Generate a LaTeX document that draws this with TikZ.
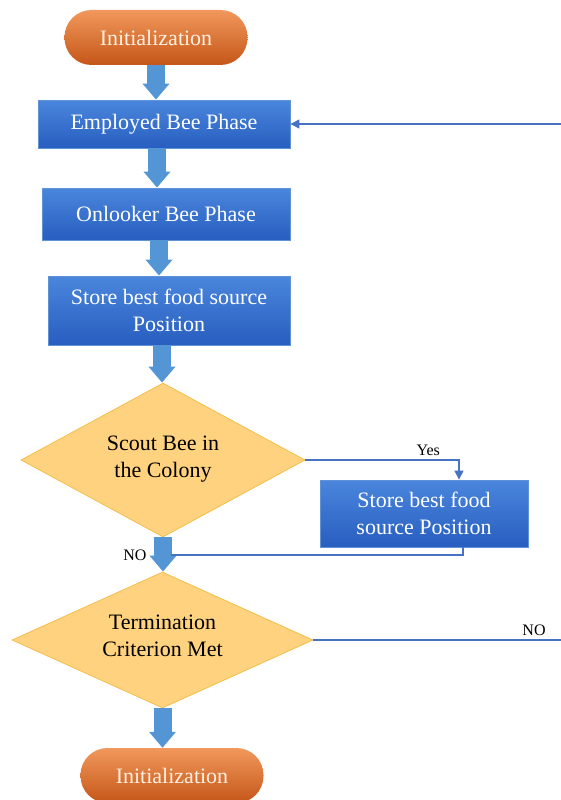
\documentclass[tikz,border=0pt]{standalone}
\usepackage{fontspec}
\setmainfont{Liberation Serif}
\usetikzlibrary{positioning, shapes, arrows.meta}

\definecolor{pilltop}{RGB}{242,152,92}
\definecolor{pillmid}{RGB}{234,122,52}
\definecolor{pillbot}{RGB}{196,86,24}
\definecolor{pilltext}{RGB}{255,242,228}
\definecolor{boxtop}{RGB}{74,134,220}
\definecolor{boxbot}{RGB}{40,94,192}
\definecolor{boxline}{RGB}{96,146,214}
\definecolor{arrowblue}{RGB}{84,150,213}
\definecolor{decfill}{RGB}{255,210,128}
\definecolor{decline}{RGB}{244,190,74}
\definecolor{linkblue}{RGB}{72,114,196}

\begin{document}
\begin{tikzpicture}[x=1pt, y=-1pt,
	pill/.style={rectangle, rounded corners=27pt, minimum width=183pt, minimum height=55pt,
		top color=pilltop, middle color=pillmid, bottom color=pillbot, text=pilltext,
		font=\rmfamily\fontsize{22}{27}\selectfont},
	phase/.style={rectangle, draw=boxline, line width=0.8pt, top color=boxtop, bottom color=boxbot,
		text=white, align=center, inner sep=0pt, font=\rmfamily\fontsize{22}{27}\selectfont},
	decision/.style={diamond, aspect=1.84, draw=decline, line width=0.8pt, fill=decfill,
		inner sep=0pt, align=center, font=\rmfamily\fontsize{22}{27}\selectfont},
	bigarrow/.style={draw=arrowblue, line width=18pt, -{Triangle[width=26pt, length=16pt]}},
	link/.style={draw=linkblue, line width=1.1pt},
	tag/.style={font=\rmfamily\fontsize{16}{19}\selectfont}]
	\useasboundingbox (0,0) rectangle (561,800);
	% Nodes:
	\node[pill] (init) at (156, 37.5){Initialization};
	\node[phase, minimum width=252pt, minimum height=48pt] (emp) at (164, 124){Employed Bee Phase};
	\node[phase, minimum width=248pt, minimum height=52pt] (onl) at (166, 214){Onlooker Bee Phase};
	\node[phase, minimum width=242pt, minimum height=69pt] (best) at (169, 310.5){Store best food source\\Position};
	\node[decision, minimum width=284pt, minimum height=154pt] (scout) at (163, 460){Scout Bee in\\the Colony\\[-20pt]};
	\node[phase, minimum width=208pt, minimum height=67pt] (keep) at (424, 513.5){Store best food\\source Position};
	\node[decision, minimum width=301pt, minimum height=136pt] (term) at (162.5, 640){Termination\\Criterion Met\\[-18pt]};
	\node[pill] (fin) at (172, 775.5){Initialization};
	\coordinate (edge) at (567, 0);
	\coordinate (merge) at (171, 555);
	% Block arrows:
	\draw[bigarrow] (init.south) -- (init.south |- emp.north);
	\draw[bigarrow] ([xshift=-7pt]emp.south) -- ([xshift=-7pt]emp.south |- onl.north);
	\draw[bigarrow] ([xshift=-7pt]onl.south) -- ([xshift=-7pt]onl.south |- best.north);
	\draw[bigarrow] ([xshift=-7pt]best.south) -- ([xshift=-7pt]best.south |- scout.north);
	\draw[bigarrow] (scout.south) -- (scout.south |- term.north);
	\draw[bigarrow] (term.south) -- (term.south |- fin.north);
	% Thin connectors:
	\draw[link, -{Triangle[width=9pt, length=9pt]}] (scout.east) -| node[tag, pos=0.4, above]{Yes} ([xshift=35pt]keep.north);
	\draw[link] ([xshift=39pt]keep.south) |- (merge);
	\node[tag, left=4pt of merge -| scout.south, xshift=-9pt] (noA){NO};
	\draw[link, -{Triangle[width=9pt, length=9pt]}] (term.east) -- node[tag, pos=0.87, above]{NO} (term.east -| edge) |- (emp.east);
\end{tikzpicture}
\end{document}
